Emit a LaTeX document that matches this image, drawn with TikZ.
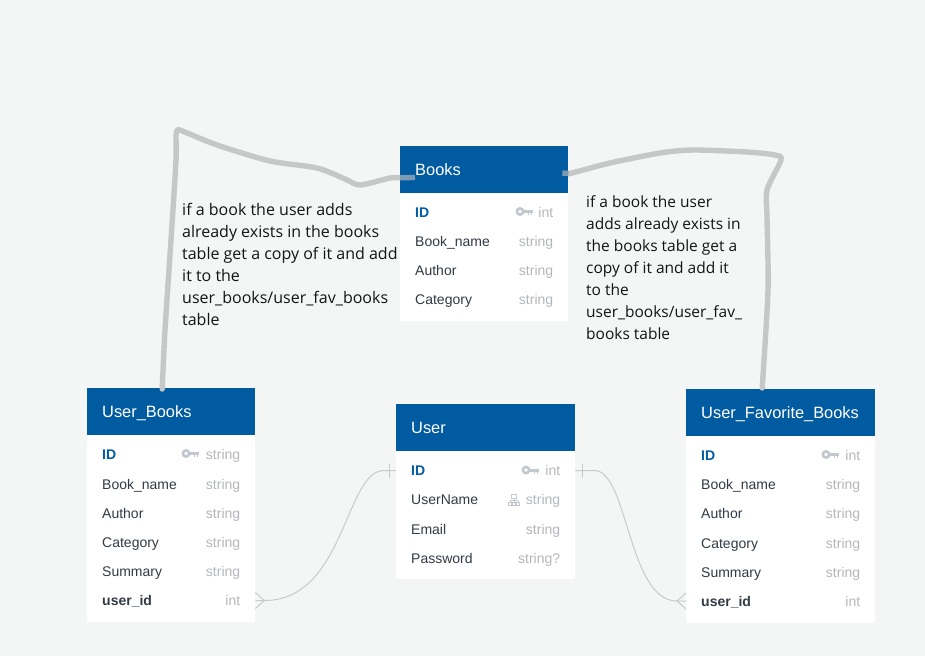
\documentclass[tikz,border=0pt]{standalone}
\usepackage{fontspec}
\setmainfont{Liberation Sans}
\newfontfamily\notefont{Open Sans}
\usetikzlibrary{calc}
\definecolor{pagebg}{HTML}{F4F6F6}
\definecolor{headblue}{HTML}{005BA1}
\definecolor{handgray}{HTML}{C6C8C7}
\definecolor{handover}{HTML}{7D9AB3}
\definecolor{linkgray}{HTML}{C8CBC9}
\definecolor{rowtext}{HTML}{323A45}
\definecolor{typetext}{HTML}{B4B7BB}
\definecolor{icongray}{HTML}{C3C8D0}
\tikzset{
  headbox/.style={fill=headblue,draw=none,inner sep=0pt,anchor=north west},
  bodybox/.style={fill=white,draw=none,inner sep=0pt,anchor=north west},
  headtext/.style={text=white,font=\fontsize{16.4}{20}\selectfont,inner sep=0pt,anchor=base west},
  rowbox/.style={draw=none,inner sep=0pt,minimum height=29pt,anchor=west},
  nametext/.style={text=rowtext,font=\fontsize{14}{17}\selectfont,inner sep=0pt,anchor=base west},
  pktext/.style={text=headblue,font=\fontsize{14}{17}\selectfont\bfseries,inner sep=0pt,anchor=base west},
  fktext/.style={text=rowtext,font=\fontsize{14}{17}\selectfont\bfseries,inner sep=0pt,anchor=base west},
  typelabel/.style={text=typetext,font=\fontsize{14}{17}\selectfont,inner sep=0pt,anchor=base east},
  notetext/.style={text=black!92,inner sep=0pt,anchor=north west,align=left},
  handline/.style={draw=handgray,line width=5.4pt,line cap=round,line join=round},
  linkline/.style={draw=linkgray,line width=1pt},
  ermark/.style={draw=linkgray,line width=1pt}
}
\newcommand{\erow}[7]{%
  \node[rowbox,minimum width=#3pt] (#1) at (#2,#4) {};
  \node[#5] (#1-n) at ($(#1.west)+(15,5)$) {#6};
  \node[typelabel] (#1-t) at ($(#1.east)+(-15,5)$) {#7};
}
\newcommand{\ertable}[7]{%
  \node[headbox,minimum width=#4pt,minimum height=#5pt] (#1) at (#2,#3) {};
  \node[bodybox,minimum width=#4pt,minimum height=#6pt] (#1-body) at (#2,#3+#5) {};
  \node[headtext] (#1-title) at ($(#1.west)+(15,6)$) {#7};
}
\newcommand{\erkey}[2]{%
  \draw[icongray,line width=2.6pt] (#1-5,#2-.5) circle (3.1pt);
  \draw[icongray,line width=3pt] (#1-2,#2-.5) -- (#1+7.5,#2-.5);
  \draw[icongray,line width=1.6pt] (#1+3.5,#2) -- (#1+3.5,#2+3) (#1+6.5,#2) -- (#1+6.5,#2+3);
}
\begin{document}
\begin{tikzpicture}[x=1pt,y=-1pt]
\useasboundingbox (0,0) rectangle (925,656);
\fill[pagebg] (0,0) rectangle (925,656);

% Books
\ertable{bk}{400}{146}{168}{46.5}{128.5}{Books}
\erow{bk-id}{400}{168}{212}{pktext}{ID}{int}
\erow{bk-name}{400}{168}{241}{nametext}{Book\textunderscore name}{string}
\erow{bk-auth}{400}{168}{270}{nametext}{Author}{string}
\erow{bk-cat}{400}{168}{299}{nametext}{Category}{string}
\erkey{525}{212}

% User_Books
\ertable{ub}{87}{388}{168}{47}{187}{User\textunderscore Books}
\erow{ub-id}{87}{168}{454}{pktext}{ID}{string}
\erow{ub-name}{87}{168}{484}{nametext}{Book\textunderscore name}{string}
\erow{ub-auth}{87}{168}{513}{nametext}{Author}{string}
\erow{ub-cat}{87}{168}{542}{nametext}{Category}{string}
\erow{ub-sum}{87}{168}{571}{nametext}{Summary}{string}
\erow{ub-uid}{87}{168}{600.5}{fktext}{user\textunderscore id}{int}
\erkey{191}{454}

% User
\ertable{us}{396}{404}{179}{46.5}{128.5}{User}
\erow{us-id}{396}{179}{470.5}{pktext}{ID}{int}
\erow{us-name}{396}{179}{499.5}{nametext}{UserName}{string}
\erow{us-mail}{396}{179}{529}{nametext}{Email}{string}
\erow{us-pass}{396}{179}{558}{nametext}{Password}{string?}
\erkey{531}{470.5}
\draw[icongray,line width=.8pt]
  (511.5,494) rectangle (516.5,498) (514,498) -- (514,500.5)
  (510,500.5) -- (518,500.5) (510,500.5) -- (510,502) (514,500.5) -- (514,502) (518,500.5) -- (518,502)
  (508.5,502) rectangle (511.5,505) (512.5,502) rectangle (515.5,505) (516.5,502) rectangle (519.5,505);

% User_Favorite_Books
\ertable{fv}{686}{389}{189}{46.5}{187}{User\textunderscore Favorite\textunderscore Books}
\erow{fv-id}{686}{189}{455}{pktext}{ID}{int}
\erow{fv-name}{686}{189}{484.5}{nametext}{Book\textunderscore name}{string}
\erow{fv-auth}{686}{189}{513.5}{nametext}{Author}{string}
\erow{fv-cat}{686}{189}{543}{nametext}{Category}{string}
\erow{fv-sum}{686}{189}{572}{nametext}{Summary}{string}
\erow{fv-uid}{686}{189}{601}{fktext}{user\textunderscore id}{int}
\erkey{831}{455}

% relationship links
\coordinate (lbar) at ($(us-id.west)+(-7,0)$);
\coordinate (rbar) at ($(us-id.east)+(7,0)$);
\coordinate (lfoot) at ($(ub-uid.east)+(9,0)$);
\coordinate (rfoot) at ($(fv-uid.west)+(-9,0)$);
\draw[linkline] (us-id.west) -- (lbar) -- ++(-5,0)
  .. controls (345,470.5) and (345,600.5) .. (lfoot) -- (ub-uid.east);
\draw[ermark] (lbar) ++(0,-7) -- ++(0,14);
\draw[ermark] (lfoot) -- (ub-uid.east |- 0,592.5) (lfoot) -- (ub-uid.east |- 0,608.5);
\draw[linkline] (us-id.east) -- (rbar) -- ++(12,0)
  .. controls (628,470.5) and (628,601) .. (rfoot) -- (fv-uid.west);
\draw[ermark] (rbar) ++(0,-7) -- ++(0,14);
\draw[ermark] (rfoot) -- (fv-uid.west |- 0,593) (rfoot) -- (fv-uid.west |- 0,609);

% hand-drawn strokes
\coordinate (ltop) at ($(ub.north)+(-9,1)$);
\coordinate (lend) at ($(bk.west)+(15,8)$);
\coordinate (ledge) at ($(bk.west)+(0,8.3)$);
\coordinate (rstart) at ($(bk.east)+(-6,3.5)$);
\coordinate (redge) at ($(bk.east)+(0,4)$);
\coordinate (rend) at ($(fv.north)+(-18.5,-1)$);
\draw[handline] plot[smooth,tension=.45] coordinates {(ltop) (165,330) (172,225) (176,160) (176,136) (177,131) (181,130.5) (217,145) (270,161) (317,168) (345,179) (360,185) (390,178) (ledge)};
\draw[handline] plot[smooth,tension=.45] coordinates {(redge) (572,173) (610,163) (660,153) (693,150) (747,152) (775,155) (781,160) (767,190) (767,217) (768,290) (rend)};
\draw[handline,draw=handover,line cap=butt] (ledge) -- (lend);
\draw[handline,draw=handover,line cap=butt] (rstart) -- (redge);

% notes
\node[notetext,font=\notefont\fontsize{16}{22}\selectfont] (note-left) at (182,203.5) {if a book the user adds\\already exists in the books\\table get a copy of it and add\\it to the\\user\textunderscore books/user\textunderscore fav\textunderscore books\\table};
\node[notetext,font=\notefont\fontsize{15.5}{22}\selectfont] (note-right) at (586,195) {if a book the user\\adds already exists in\\the books table get a\\copy of it and add it\\to the\\user\textunderscore books/user\textunderscore fav\textunderscore\\books table};
\end{tikzpicture}
\end{document}
